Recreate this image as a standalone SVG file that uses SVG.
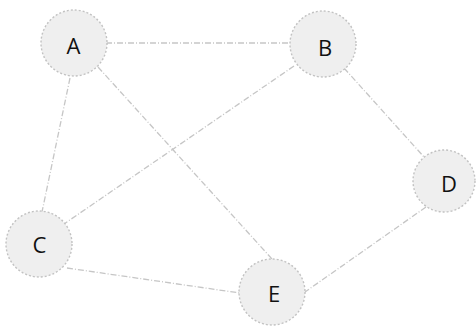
<svg xmlns="http://www.w3.org/2000/svg" width="476" height="326" viewBox="0 0 476 326">
<style>
.edge{stroke:#c6c6c6;stroke-width:1.3;stroke-dasharray:6 2 1 2;fill:none}
.node circle{fill:#efefef;stroke:#c2c2c2;stroke-width:1.4;stroke-dasharray:2 2}
.node text{font-family:"Open Sans","Liberation Sans",sans-serif;font-size:22px;fill:#111;text-anchor:middle}
</style>
<rect width="476" height="326" fill="#ffffff"/>
<g id="connectors">
<line class="edge" x1="106" y1="43" x2="290" y2="43"/>
<line class="edge" x1="70" y1="78" x2="42" y2="212"/>
<line class="edge" x1="98" y1="67" x2="272" y2="259"/>
<line class="edge" x1="294" y1="66" x2="64" y2="224"/>
<line class="edge" x1="344" y1="68" x2="424" y2="157"/>
<line class="edge" x1="426" y1="207" x2="305" y2="292"/>
<line class="edge" x1="67" y1="268" x2="240" y2="293"/>
</g>
<g id="node-A" class="node"><circle cx="74" cy="43" r="33"/><text x="73.5" y="53.5">A</text></g>
<g id="node-B" class="node"><circle cx="323" cy="44" r="33"/><text x="325" y="56">B</text></g>
<g id="node-D" class="node"><circle cx="444" cy="181" r="31"/><text x="449" y="191.5">D</text></g>
<g id="node-C" class="node"><circle cx="39" cy="244" r="33"/><text x="39.5" y="253">C</text></g>
<g id="node-E" class="node"><circle cx="272" cy="292" r="33"/><text x="274" y="301.5">E</text></g>
</svg>
